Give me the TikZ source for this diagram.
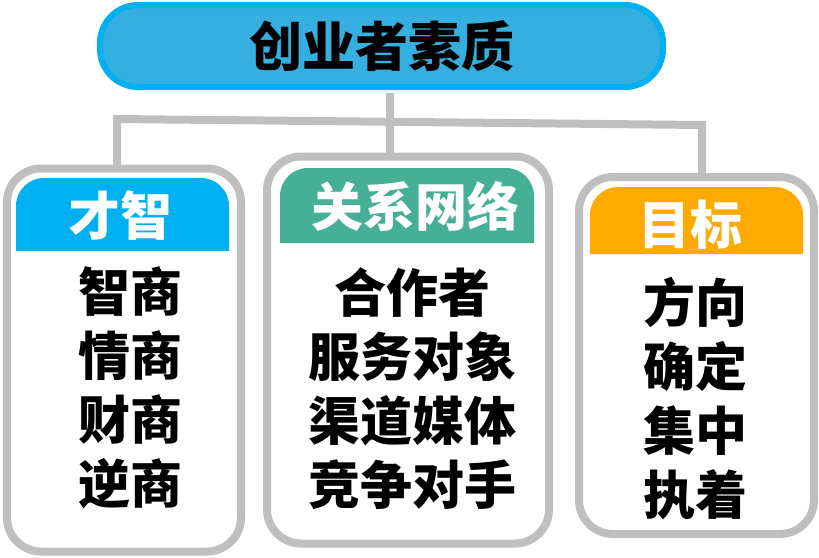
\documentclass[tikz,border=0pt]{standalone}
\usepackage{fontspec}
\newfontfamily\cjk{Noto Sans CJK SC Black}
\definecolor{skyblue}{HTML}{00B0F0}
\definecolor{pillfill}{HTML}{35AFDF}
\definecolor{hdgreen}{HTML}{45B095}
\definecolor{hdorange}{HTML}{FFAA00}
\definecolor{linegray}{HTML}{BFBFBF}
\begin{document}
\begin{tikzpicture}[x=1pt,y=-1pt,
    card/.style={draw=linegray, line width=8pt, rounded corners=34pt, fill=white, inner sep=0pt, outer sep=0pt},
    head/.style={text=white, font=\cjk\fontsize{52}{52}\selectfont},
    items/.style={align=center, font=\cjk\fontsize{52}{64}\selectfont},
    link/.style={draw=linegray, line width=8pt}]
    \useasboundingbox (0,0) rectangle (819,557);

    %title
    \node[draw=skyblue, fill=pillfill, line width=6pt, rounded corners=38pt,
          minimum width=563pt, minimum height=82pt,
          font=\cjk\fontsize{53}{53}\selectfont] (title) at (381.5,46) {创业者素质};

    %boxes
    \node[card, minimum width=234pt, minimum height=383pt] (zhiBox) at (124,360) {};
    \node[card, minimum width=282pt, minimum height=387pt] (guanBox) at (408,350) {};
    \node[card, minimum width=235pt, minimum height=357pt] (muBox) at (696.5,355.5) {};

    %headers
    \fill[skyblue] (16,251) [rounded corners=28pt] -- (16,178) -- (229,178) [sharp corners] -- (229,251) -- cycle;
    \fill[hdgreen] (280,243) [rounded corners=28pt] -- (280,168) -- (534,168) [sharp corners] -- (534,243) -- cycle;
    \fill[hdorange] (590,254) [rounded corners=28pt] -- (590,187) -- (803,187) [sharp corners] -- (803,254) -- cycle;
    \node[head] (zhiHead) at (120,216) {才智};
    \node[head] (guanHead) at (415,206) {关系网络};
    \node[head] (muHead) at (690,225) {目标};

    %lists
    \node[items] (zhiList) at (130,388) {智商\\情商\\财商\\逆商};
    \node[items] (guanList) at (412,389) {合作者\\服务对象\\渠道媒体\\竞争对手};
    \node[items] (muList) at (695,399) {方向\\确定\\集中\\执着};

    %connectors
    \coordinate (hubL) at (117,119);
    \coordinate (hubM) at (390,122);
    \coordinate (hubR) at (702,125);
    \draw[link, shorten <=3pt] (hubM |- title.south) -- (hubM);
    \draw[link] (hubL |- zhiBox.north) -- (hubL) -- (hubR) -- (hubR |- muBox.north);
    \draw[link] (hubM) -- (hubM |- guanBox.north);
\end{tikzpicture}
\end{document}
